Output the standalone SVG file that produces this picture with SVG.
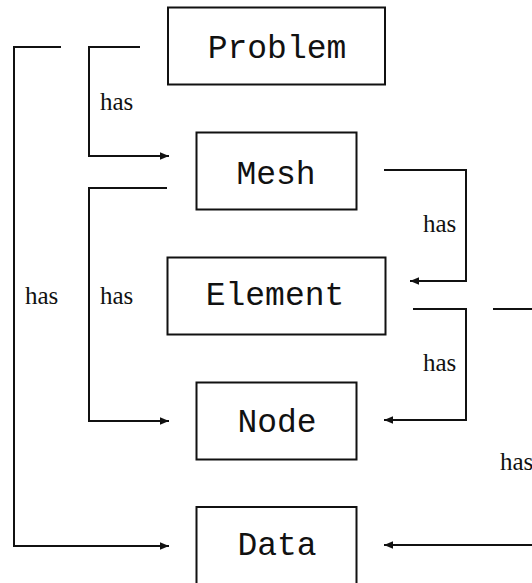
<svg xmlns="http://www.w3.org/2000/svg" width="532" height="583" viewBox="0 0 532 583">
  <style>
    .box { fill: #fff; stroke: #111; stroke-width: 2; }
    .name { font-family: "Liberation Mono", "DejaVu Sans Mono", monospace; font-size: 33px; fill: #111; text-anchor: middle; }
    .wire { fill: none; stroke: #111; stroke-width: 2; }
    .lbl { font-family: "Liberation Serif", "DejaVu Serif", serif; font-size: 25px; fill: #111; }
  </style>
  <defs>
    <marker id="tip" viewBox="0 0 9 8" refX="9" refY="4" markerWidth="9" markerHeight="8" markerUnits="userSpaceOnUse" orient="auto">
      <path d="M0,0.3 L9,4 L0,7.7 Z" fill="#111"/>
    </marker>
  </defs>
  <rect width="532" height="583" fill="#fff"/>

  <g id="connectors">
    <!-- Problem has Data -->
    <path class="wire" d="M61,47 H14 V546 H169" marker-end="url(#tip)"/>
    <text class="lbl" x="25" y="304">has</text>
    <!-- Problem has Mesh -->
    <path class="wire" d="M140,47 H89 V156 H169" marker-end="url(#tip)"/>
    <text class="lbl" x="100" y="110">has</text>
    <!-- Mesh has Node -->
    <path class="wire" d="M167,188 H89 V421 H169" marker-end="url(#tip)"/>
    <text class="lbl" x="100" y="304">has</text>
    <!-- Mesh has Element -->
    <path class="wire" d="M384,170 H466 V281 H410" marker-end="url(#tip)"/>
    <text class="lbl" x="423" y="232">has</text>
    <!-- Element has Node -->
    <path class="wire" d="M413,309 H466 V420 H384" marker-end="url(#tip)"/>
    <text class="lbl" x="423" y="371">has</text>
    <!-- Element has Data -->
    <path class="wire" d="M493,309 H540"/>
    <text class="lbl" x="500" y="470">has</text>
    <path class="wire" d="M540,545 H384" marker-end="url(#tip)"/>
  </g>

  <g id="problem">
    <rect class="box" x="168" y="7.5" width="217" height="77"/>
    <text class="name" x="277" y="58">Problem</text>
  </g>
  <g id="mesh">
    <rect class="box" x="196.5" y="132.5" width="160" height="77"/>
    <text class="name" x="276" y="184">Mesh</text>
  </g>
  <g id="element">
    <rect class="box" x="167.5" y="257.5" width="218" height="77"/>
    <text class="name" x="275" y="305">Element</text>
  </g>
  <g id="node">
    <rect class="box" x="196.5" y="382.5" width="160" height="77"/>
    <text class="name" x="277" y="432">Node</text>
  </g>
  <g id="data">
    <rect class="box" x="196.5" y="507" width="160" height="78"/>
    <text class="name" x="277" y="555">Data</text>
  </g>
</svg>
